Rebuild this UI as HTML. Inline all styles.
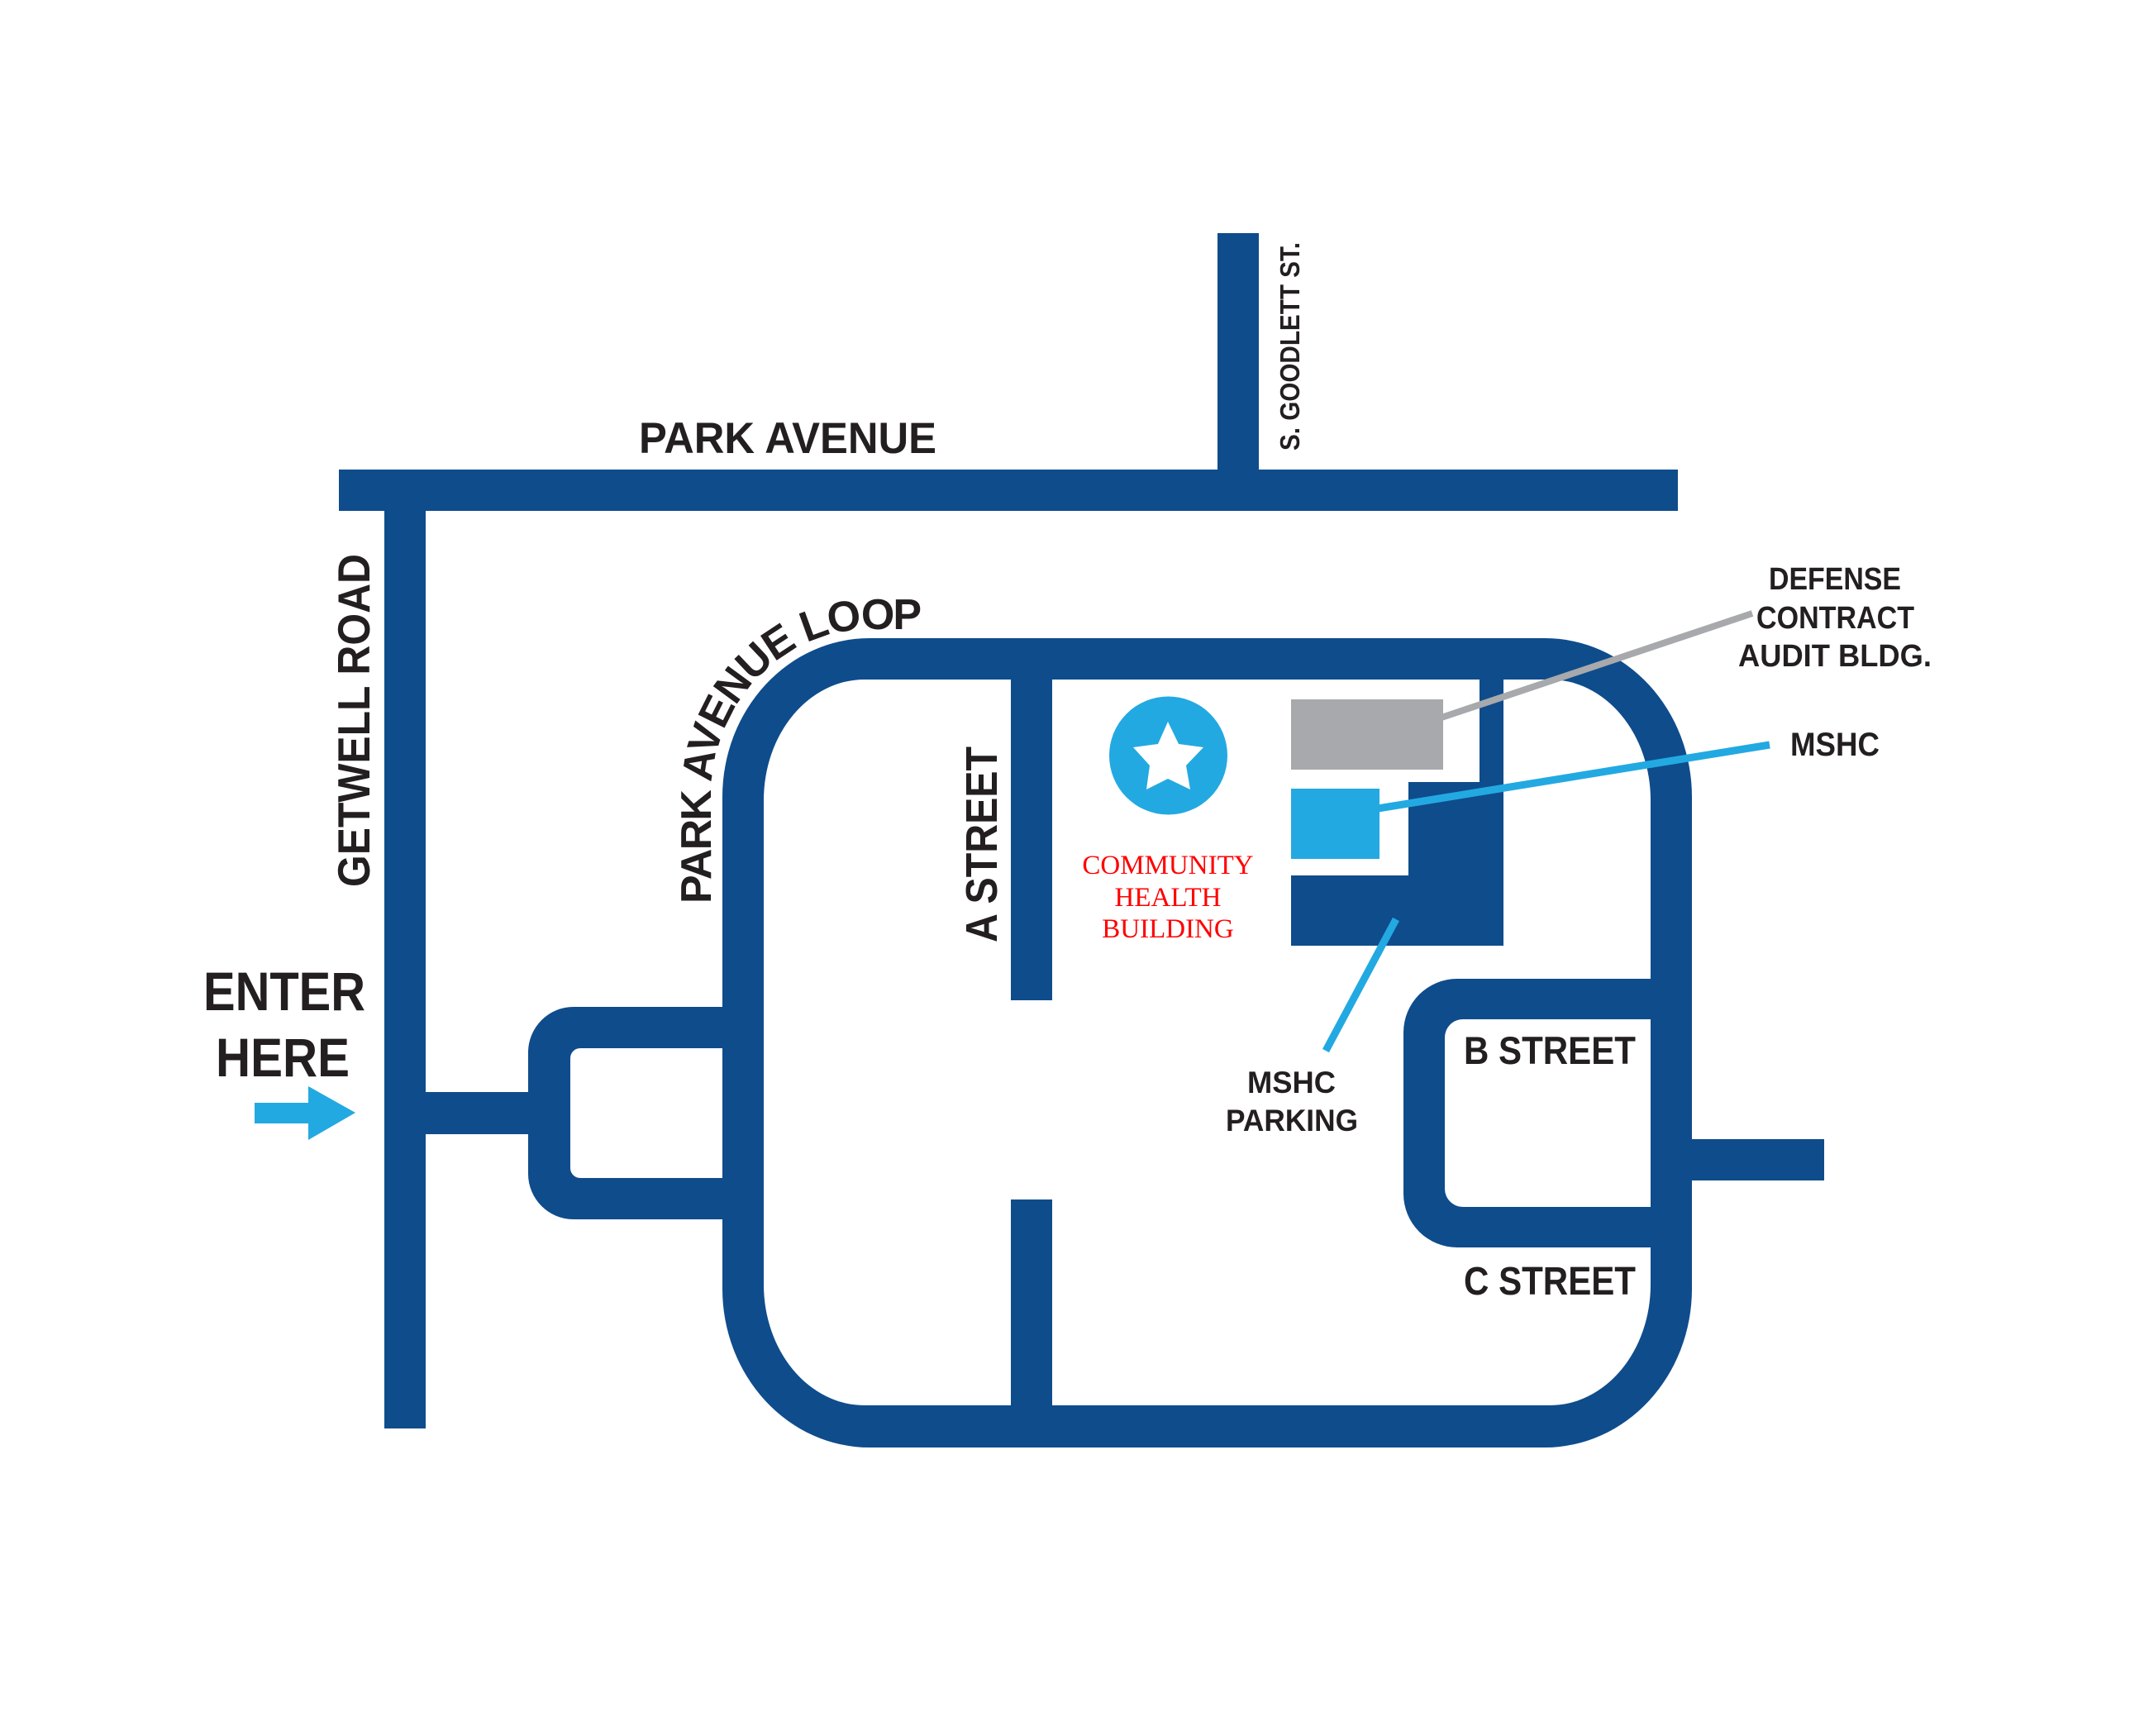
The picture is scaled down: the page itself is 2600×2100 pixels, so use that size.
<!DOCTYPE html>
<html>
<head>
<meta charset="utf-8">
<style>
  html, body { margin: 0; padding: 0; background: #ffffff; }
  svg { display: block; }
  .lbl { font-family: "Liberation Sans", "DejaVu Sans", sans-serif; font-weight: bold; fill: #231F20; }
  .serif { font-family: "Liberation Serif", "DejaVu Serif", serif; fill: #FF0000; }
</style>
</head>
<body>
<svg width="2600" height="2100" viewBox="0 0 2600 2100" xmlns="http://www.w3.org/2000/svg">
  <rect x="0" y="0" width="2600" height="2100" fill="#ffffff"/>

  <g fill="#0F4C8C">
    <!-- Park Avenue -->
    <rect x="410" y="568" width="1620" height="50"/>
    <!-- S. Goodlett St. -->
    <rect x="1473" y="282" width="50" height="290"/>
    <!-- Getwell Road -->
    <rect x="465" y="614" width="50" height="1114"/>
    <!-- connector to entrance loop -->
    <rect x="512" y="1321" width="131" height="51"/>
    <!-- entrance loop -->
    <path fill-rule="evenodd" d="M 878 1218 L 694 1218 A 55 55 0 0 0 639 1273 L 639 1420 A 55 55 0 0 0 694 1475 L 878 1475 Z
      M 878 1268 L 702 1268 A 12 12 0 0 0 690 1280 L 690 1413 A 12 12 0 0 0 702 1425 L 878 1425 Z"/>
    <!-- main loop -->
    <path fill-rule="evenodd" d="M 1052 772 L 1869 772 A 178 192 0 0 1 2047 964 L 2047 1559 A 178 192 0 0 1 1869 1751 L 1052 1751 A 178 192 0 0 1 874 1559 L 874 964 A 178 192 0 0 1 1052 772 Z
      M 1046 822 L 1875 822 A 122 146 0 0 1 1997 968 L 1997 1554 A 122 146 0 0 1 1875 1700 L 1046 1700 A 122 146 0 0 1 924 1554 L 924 968 A 122 146 0 0 1 1046 822 Z"/>
    <!-- A Street -->
    <rect x="1223" y="818" width="50" height="392"/>
    <rect x="1223" y="1451" width="50" height="253"/>
    <!-- B / C street loop -->
    <path fill-rule="evenodd" d="M 2001 1184 L 1763 1184 A 65 65 0 0 0 1698 1249 L 1698 1444 A 65 65 0 0 0 1763 1509 L 2001 1509 Z
      M 2001 1233 L 1770 1233 A 22 22 0 0 0 1748 1255 L 1748 1438 A 22 22 0 0 0 1770 1460 L 2001 1460 Z"/>
    <!-- right stub -->
    <rect x="2043" y="1378" width="164" height="50"/>
    <!-- MSHC building (dark) -->
    <rect x="1790" y="818" width="29" height="130"/>
    <rect x="1704" y="946" width="115" height="198"/>
    <rect x="1562" y="1059" width="144" height="85"/>
  </g>

  <!-- Defense Contract Audit building -->
  <rect x="1562" y="846" width="184" height="85" fill="#A7A9AC"/>
  <!-- MSHC building (light) -->
  <rect x="1562" y="954" width="107" height="85" fill="#23A9E1"/>

  <!-- leader lines -->
  <line x1="1744" y1="868" x2="2120" y2="742" stroke="#A7A9AC" stroke-width="8"/>
  <line x1="1667" y1="978" x2="2141" y2="901" stroke="#23A9E1" stroke-width="9"/>
  <line x1="1689" y1="1112" x2="1604" y2="1271" stroke="#23A9E1" stroke-width="9"/>

  <!-- Community Health star -->
  <circle cx="1413.5" cy="914" r="71.5" fill="#23A9E1"/>
  <polygon fill="#ffffff" points="1413,873 1426,900 1456,904 1435,926 1440,955 1413,942 1387,955 1391,926 1371,904 1401,900"/>

  <!-- Enter arrow -->
  <polygon fill="#23A9E1" points="308,1334 373,1334 373,1314 430,1346 373,1379 373,1359 308,1359"/>

  <!-- Labels -->
  <text class="lbl" x="773" y="548" font-size="53" textLength="360" lengthAdjust="spacingAndGlyphs">PARK AVENUE</text>
  <text class="lbl" font-size="33" textLength="252" lengthAdjust="spacingAndGlyphs" transform="translate(1572,545) rotate(-90)">S. GOODLETT ST.</text>
  <text class="lbl" font-size="55" textLength="403" lengthAdjust="spacingAndGlyphs" transform="translate(447,1073) rotate(-90)">GETWELL ROAD</text>
  <text class="lbl" font-size="54" textLength="237" lengthAdjust="spacingAndGlyphs" transform="translate(1206,1140) rotate(-90)">A STREET</text>

  <path id="loopPath" d="M 860 1100 L 860 964 A 192 203 0 0 1 1052 761 L 1300 761" fill="none"/>
  <text class="lbl" font-size="52" letter-spacing="-1.9">
    <textPath href="#loopPath" startOffset="7">PARK AVENUE LOOP</textPath>
  </text>

  <text class="lbl" x="246" y="1222" font-size="66" textLength="196" lengthAdjust="spacingAndGlyphs">ENTER</text>
  <text class="lbl" x="261" y="1302" font-size="66" textLength="162" lengthAdjust="spacingAndGlyphs">HERE</text>

  <text class="lbl" x="2140" y="713" font-size="38" textLength="160" lengthAdjust="spacingAndGlyphs">DEFENSE</text>
  <text class="lbl" x="2125" y="760" font-size="38" textLength="191" lengthAdjust="spacingAndGlyphs">CONTRACT</text>
  <text class="lbl" x="2103" y="806" font-size="38" textLength="234" lengthAdjust="spacingAndGlyphs">AUDIT BLDG.</text>

  <text class="lbl" x="2166" y="914" font-size="40" textLength="108" lengthAdjust="spacingAndGlyphs">MSHC</text>

  <text class="lbl" x="1509" y="1322" font-size="37" textLength="107" lengthAdjust="spacingAndGlyphs">MSHC</text>
  <text class="lbl" x="1483" y="1368" font-size="37" textLength="160" lengthAdjust="spacingAndGlyphs">PARKING</text>

  <text class="lbl" x="1771" y="1287" font-size="47" textLength="208" lengthAdjust="spacingAndGlyphs">B STREET</text>
  <text class="lbl" x="1771" y="1566" font-size="48" textLength="208" lengthAdjust="spacingAndGlyphs">C STREET</text>

  <text class="serif" x="1413" y="1057" font-size="33" text-anchor="middle">COMMUNITY</text>
  <text class="serif" x="1413" y="1096" font-size="33" text-anchor="middle">HEALTH</text>
  <text class="serif" x="1413" y="1134" font-size="33" text-anchor="middle">BUILDING</text>
</svg>
</body>
</html>
